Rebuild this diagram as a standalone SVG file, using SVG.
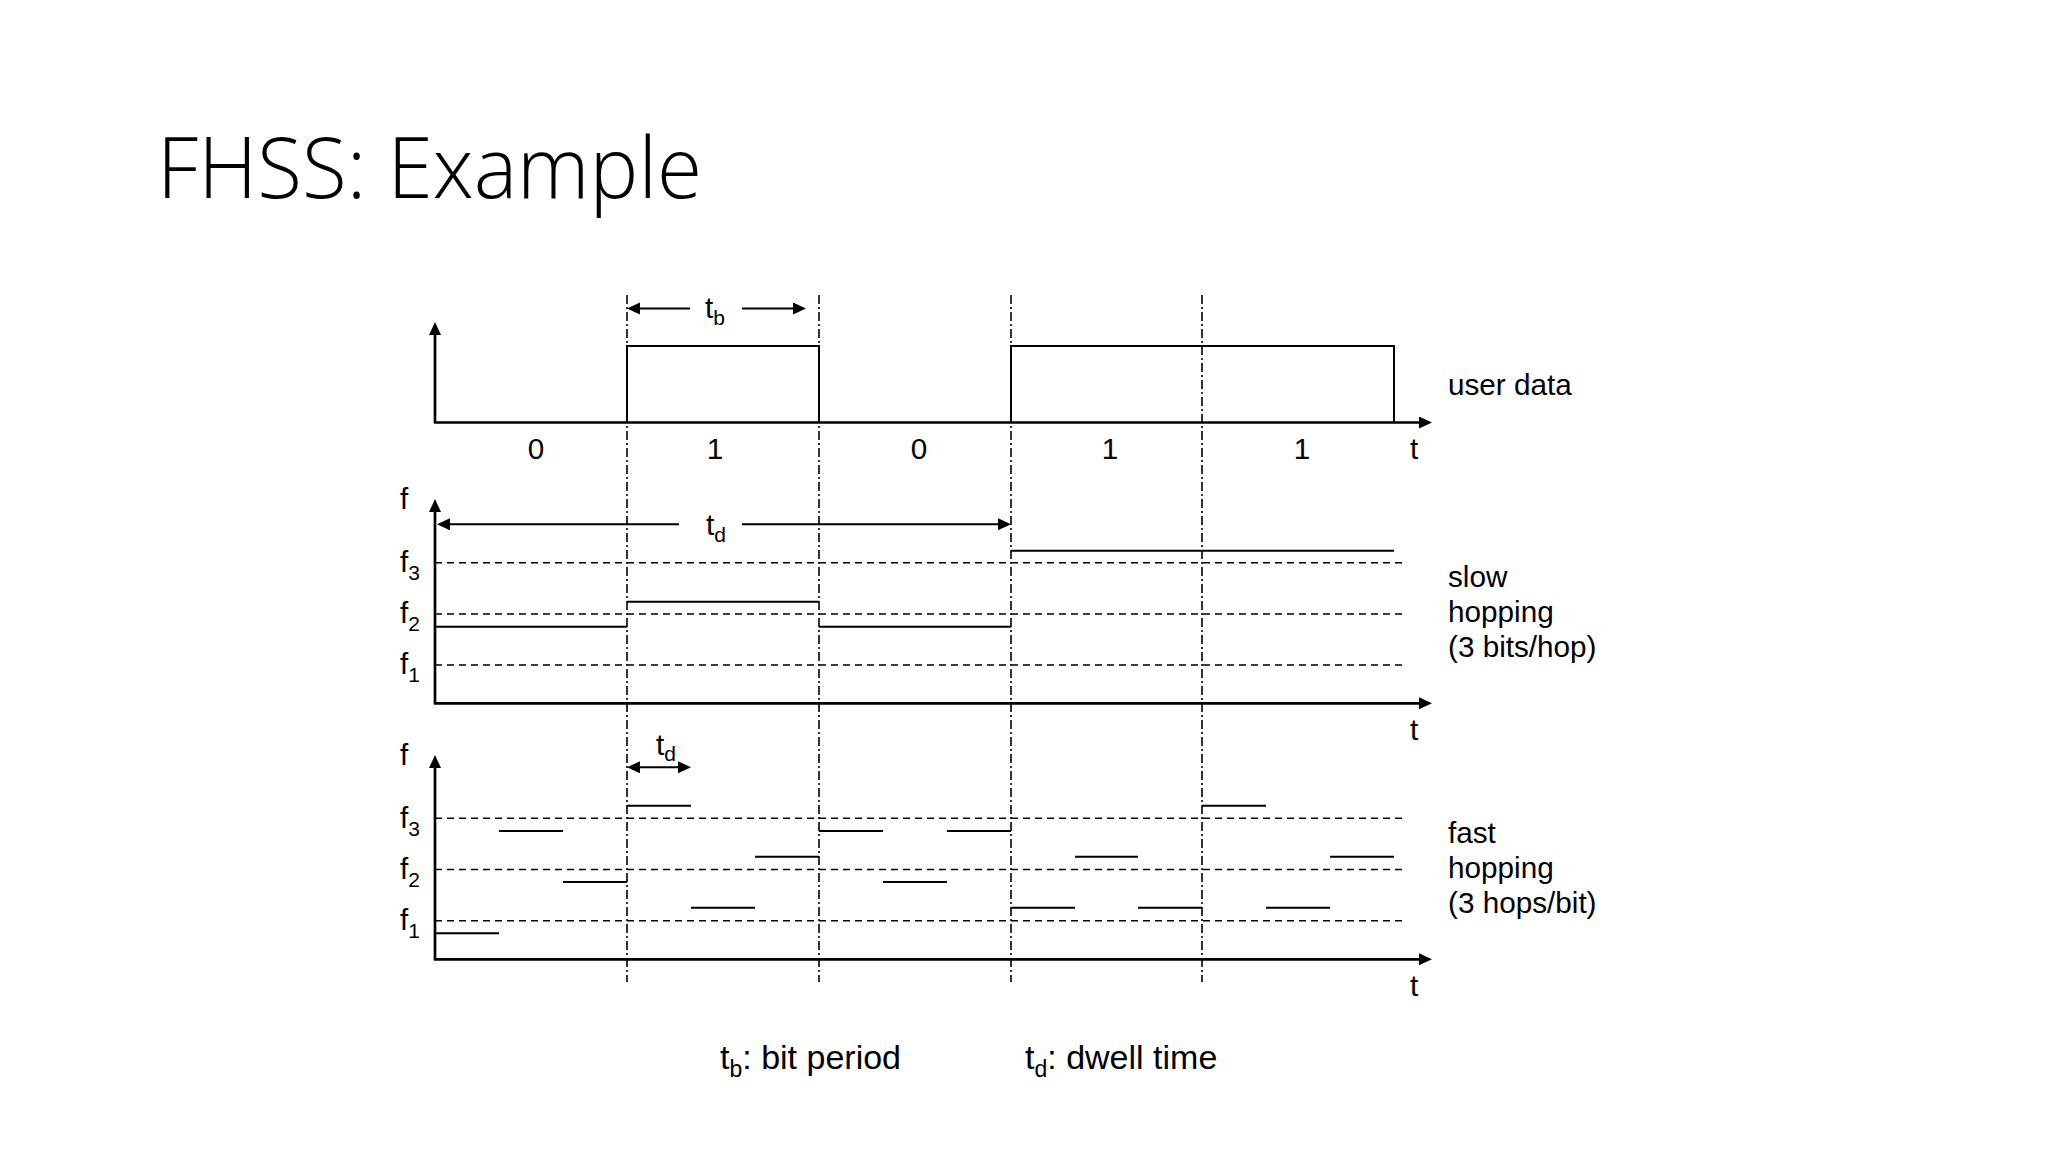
<svg xmlns="http://www.w3.org/2000/svg" width="2048" height="1152" viewBox="0 0 2048 1152">
<defs>
<marker id="ah" markerUnits="userSpaceOnUse" markerWidth="13" markerHeight="13" refX="9" refY="6" orient="auto-start-reverse">
<path d="M0,0 L13,6 L0,12 z" fill="#000"/>
</marker>
</defs>
<style>
.lbl{font-family:"Liberation Sans",Arial,sans-serif;font-size:29.7px;fill:#000}
.sub{font-size:21px}
.leg{font-family:"Liberation Sans",Arial,sans-serif;font-size:34px;fill:#000}
.lsub{font-size:23px}
.axis{stroke:#000;stroke-width:2.7;fill:none}
.sig{stroke:#000;stroke-width:2;fill:none}
.grid{stroke:#000;stroke-width:1.6;stroke-dasharray:7 5;fill:none}
.vgrid{stroke:#000;stroke-width:1.6;stroke-dasharray:9 3 2 3;fill:none}
.dim{stroke:#000;stroke-width:2;fill:none}
</style>
<rect width="2048" height="1152" fill="#fff"/>
<text id="title" x="157" y="198" font-family="'Open Sans',sans-serif" font-weight="300" font-size="85" textLength="545" lengthAdjust="spacingAndGlyphs" fill="#000">FHSS: Example</text>

<g id="bit-boundaries">
<line class="vgrid" x1="627" y1="295" x2="627" y2="982"/>
<line class="vgrid" x1="819" y1="295" x2="819" y2="982"/>
<line class="vgrid" x1="1011" y1="295" x2="1011" y2="982"/>
<line class="vgrid" x1="1202" y1="295" x2="1202" y2="982"/>
</g>

<g id="user-data">
<line class="axis" x1="435" y1="423" x2="435" y2="326" marker-end="url(#ah)"/>
<line class="axis" x1="434" y1="422.5" x2="1428" y2="422.5" marker-end="url(#ah)"/>
<path class="sig" d="M627,422.5 V346 H819 V422.5 M1011,422.5 V346 H1394 V422.5"/>
<line class="dim" x1="631" y1="308.5" x2="690" y2="308.5" marker-start="url(#ah)"/>
<line class="dim" x1="742" y1="308.5" x2="802" y2="308.5" marker-end="url(#ah)"/>
<text class="lbl" x="705" y="318">t<tspan class="sub" dy="7">b</tspan></text>
<text class="lbl" x="536" y="459" text-anchor="middle">0</text>
<text class="lbl" x="715" y="459" text-anchor="middle">1</text>
<text class="lbl" x="919" y="459" text-anchor="middle">0</text>
<text class="lbl" x="1110" y="459" text-anchor="middle">1</text>
<text class="lbl" x="1302" y="459" text-anchor="middle">1</text>
<text class="lbl" x="1414" y="459" text-anchor="middle">t</text>
<text class="lbl" x="1448" y="395">user data</text>
</g>

<g id="slow-hopping">
<line class="grid" x1="435" y1="562.7" x2="1407" y2="562.7"/>
<line class="grid" x1="435" y1="614" x2="1407" y2="614"/>
<line class="grid" x1="435" y1="665" x2="1407" y2="665"/>
<line class="axis" x1="435" y1="704" x2="435" y2="503" marker-end="url(#ah)"/>
<line class="axis" x1="434" y1="703.3" x2="1428" y2="703.3" marker-end="url(#ah)"/>
<path class="sig" d="M435,626.7 H627 M627,601.7 H819 M819,626.7 H1011 M1011,550.7 H1394"/>
<line class="dim" x1="441" y1="524.3" x2="679" y2="524.3" marker-start="url(#ah)"/>
<line class="dim" x1="742" y1="524.3" x2="1007" y2="524.3" marker-end="url(#ah)"/>
<text class="lbl" x="706" y="535">t<tspan class="sub" dy="7">d</tspan></text>
<text class="lbl" x="400" y="509">f</text>
<text class="lbl" x="400" y="572">f<tspan class="sub" dy="8">3</tspan></text>
<text class="lbl" x="400" y="623">f<tspan class="sub" dy="8">2</tspan></text>
<text class="lbl" x="400" y="674">f<tspan class="sub" dy="8">1</tspan></text>
<text class="lbl" x="1414" y="740" text-anchor="middle">t</text>
<text class="lbl" x="1448" y="587">slow</text>
<text class="lbl" x="1448" y="622">hopping</text>
<text class="lbl" x="1448" y="657">(3 bits/hop)</text>
</g>

<g id="fast-hopping">
<line class="grid" x1="435" y1="818.3" x2="1407" y2="818.3"/>
<line class="grid" x1="435" y1="869.5" x2="1407" y2="869.5"/>
<line class="grid" x1="435" y1="920.7" x2="1407" y2="920.7"/>
<line class="axis" x1="435" y1="960" x2="435" y2="759" marker-end="url(#ah)"/>
<line class="axis" x1="434" y1="959.3" x2="1428" y2="959.3" marker-end="url(#ah)"/>
<path class="sig" d="M435,933.3 H499 M499,831 H563 M563,882 H627
M627,805.7 H691 M691,907.7 H755 M755,856.7 H819
M819,831 H883 M883,882 H947 M947,831 H1011
M1011,907.7 H1075 M1075,856.7 H1138 M1138,907.7 H1202
M1202,805.7 H1266 M1266,907.7 H1330 M1330,856.7 H1394"/>
<line class="dim" x1="631" y1="767.3" x2="687" y2="767.3" marker-start="url(#ah)" marker-end="url(#ah)"/>
<text class="lbl" x="656" y="755">t<tspan class="sub" dy="6">d</tspan></text>
<text class="lbl" x="400" y="765">f</text>
<text class="lbl" x="400" y="828">f<tspan class="sub" dy="8">3</tspan></text>
<text class="lbl" x="400" y="879">f<tspan class="sub" dy="8">2</tspan></text>
<text class="lbl" x="400" y="930">f<tspan class="sub" dy="8">1</tspan></text>
<text class="lbl" x="1414" y="996" text-anchor="middle">t</text>
<text class="lbl" x="1448" y="843">fast</text>
<text class="lbl" x="1448" y="878">hopping</text>
<text class="lbl" x="1448" y="913">(3 hops/bit)</text>
</g>

<g id="legend">
<text class="leg" x="720" y="1069">t<tspan class="lsub" dy="8">b</tspan><tspan dy="-8">: bit period</tspan></text>
<text class="leg" x="1025" y="1069">t<tspan class="lsub" dy="8">d</tspan><tspan dy="-8">: dwell time</tspan></text>
</g>
</svg>
